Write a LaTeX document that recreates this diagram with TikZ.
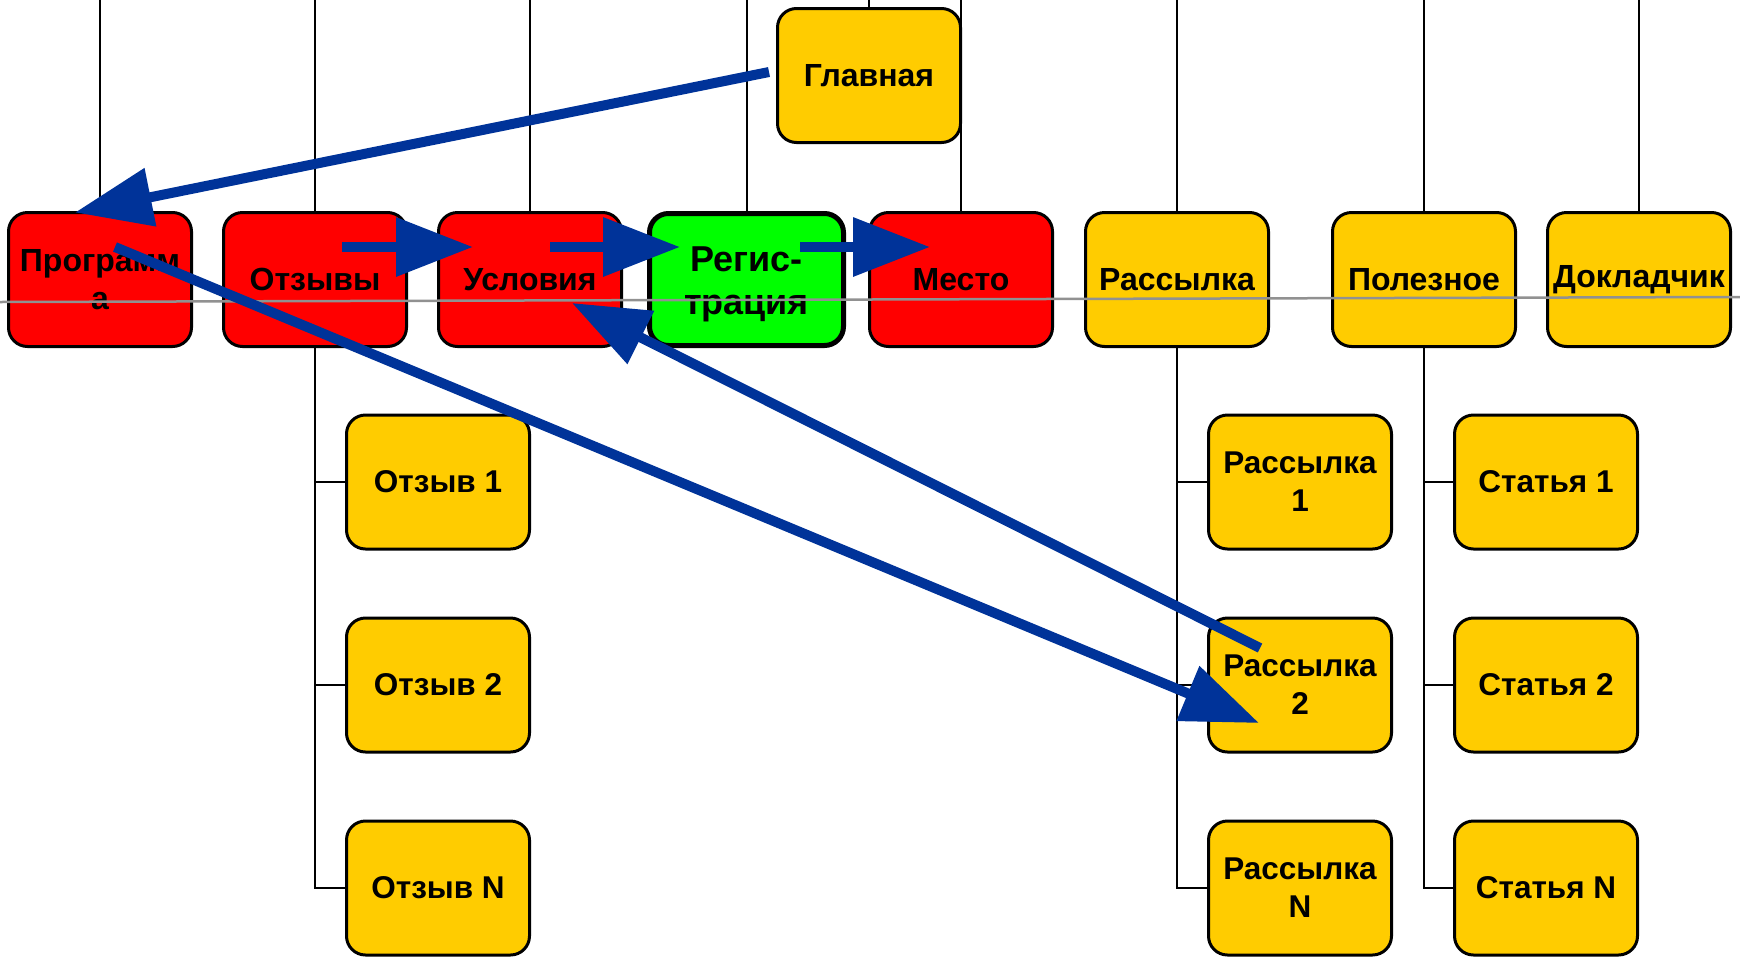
\documentclass[tikz,border=0pt]{standalone}
\usepackage{fontspec}
\setmainfont{Liberation Sans}
\usetikzlibrary{arrows.meta,calc}
\definecolor{boxred}{RGB}{255,0,0}
\definecolor{boxgreen}{RGB}{0,255,0}
\definecolor{boxyellow}{RGB}{255,204,0}
\definecolor{arrowblue}{RGB}{0,51,153}
\definecolor{guidegray}{RGB}{145,145,145}
\begin{document}
\begin{tikzpicture}[x=1pt,y=-1pt,
  box/.style={draw=black, line width=3pt, rounded corners=19pt,
    minimum width=183pt, minimum height=134pt, inner sep=0pt,
    align=center, text=black,
    font=\fontsize{32}{38}\selectfont\bfseries},
  childbox/.style={box, fill=boxyellow,
    font=\fontsize{31.5}{38}\selectfont\bfseries},
  redbox/.style={box, fill=boxred},
  yelbox/.style={box, fill=boxyellow},
  greenbox/.style={box, fill=boxgreen, line width=5pt,
    minimum width=194pt, minimum height=132pt,
    font=\fontsize{36}{43}\selectfont\bfseries},
  tree/.style={draw=black, line width=2pt},
  guide/.style={draw=guidegray, line width=2.5pt},
  arr/.style={draw=arrowblue, line width=10pt,
    -{Triangle[length=77pt,width=57pt]}}]
\useasboundingbox (0,0) rectangle (1740,959);
\coordinate (top) at (0,0);
\coordinate (glavtop) at (869,0);

% nodes
\node[yelbox] (glav) at (869,75.5) {Главная};
\node[redbox] (prog) at (100,279.5) {Программ\\а};
\node[redbox] (otz) at (315,279.5) {Отзывы};
\node[redbox] (usl) at (530,279.5) {Условия};
\node[greenbox] (reg) at (746.5,279.5)
  {\raisebox{-4.5pt}[\height][\depth]{\begin{tabular}{@{}c@{}}Регис-\\трация\end{tabular}}};
\node[redbox] (mesto) at (961,279.5) {Место};
\node[yelbox] (rass) at (1177,279.5) {Рассылка};
\node[yelbox] (polez) at (1424,279.5) {Полезное};
\node[yelbox] (dokl) at (1639,279.5) {Докладчик};

\node[childbox] (otz1) at (438,482) {Отзыв 1};
\node[childbox] (otz2) at (438,685) {Отзыв 2};
\node[childbox] (otzN) at (438,888) {Отзыв N};
\node[childbox] (r1) at (1300,482) {Рассылка\\1};
\node[childbox] (r2) at (1300,685) {Рассылка\\2};
\node[childbox] (rN) at (1300,888) {Рассылка\\N};
\node[childbox] (s1) at (1546,482) {Статья 1};
\node[childbox] (s2) at (1546,685) {Статья 2};
\node[childbox] (sN) at (1546,888) {Статья N};

% vertical lines from top edge
\foreach \n in {prog,otz,usl,reg,mesto,rass,polez,dokl}
  \draw[tree] (\n.north) -- (\n.north |- top);
\draw[tree] (glav.north) -- (glavtop);

% child trunks
\foreach \p/\c in {otz/otz1,otz/otz2,otz/otzN,rass/r1,rass/r2,rass/rN,polez/s1,polez/s2,polez/sN}
  \draw[tree] (\p.south) |- (\c.west);

% gray guide line
\coordinate (gl) at (0,302);
\coordinate (gr) at (1740,297);
\draw[guide] (gl) -- (gr);

% blue arrows
\coordinate (a1s) at ($(glav.west)+(-7,-3.5)$);
\coordinate (a1e) at ($(prog.north)+(-25,1.5)$);
\coordinate (a2s) at ($(prog.center)+(15,-32.5)$);
\coordinate (a2e) at ($(r2.center)+(-41,38)$);
\coordinate (a3s) at ($(r2.center)+(-40,-37)$);
\coordinate (a3e) at ($(usl.center)+(42,23.5)$);
\coordinate (a4s) at ($(otz.center)+(27,-32.5)$);
\coordinate (a4e) at ($(usl.center)+(-57,-32.5)$);
\coordinate (a5s) at ($(usl.center)+(20,-32.5)$);
\coordinate (a5e) at ($(reg.center)+(-66.5,-32.5)$);
\coordinate (a6s) at ($(reg.center)+(53.5,-32.5)$);
\coordinate (a6e) at ($(mesto.center)+(-31,-32.5)$);
\draw[arr] (a1s) -- (a1e);
\draw[arr] (a2s) -- (a2e);
\draw[arr] (a3s) -- (a3e);
\draw[arr] (a4s) -- (a4e);
\draw[arr] (a5s) -- (a5e);
\draw[arr] (a6s) -- (a6e);
\end{tikzpicture}
\end{document}
